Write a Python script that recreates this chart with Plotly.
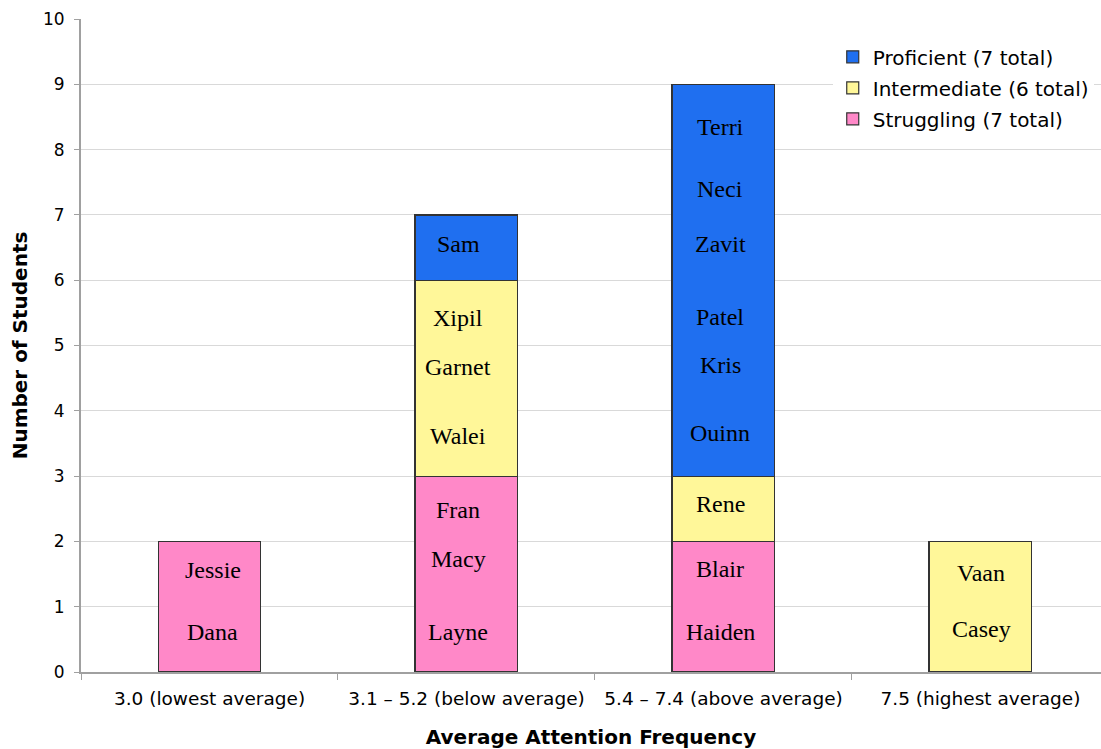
import plotly.graph_objects as go

# Attention-frequency bands on the x axis
categories = [
    "3.0 (lowest average)",
    "3.1 – 5.2 (below average)",
    "5.4 – 7.4 (above average)",
    "7.5 (highest average)",
]

# Number of students per band and proficiency level
struggling = [2, 3, 2, 0]
intermediate = [0, 3, 1, 2]
proficient = [0, 1, 6, 0]

# Student names written inside each stacked segment, bottom to top,
# with the height at which each name is written
struggling_names = [["Dana", "Jessie"], ["Layne", "Macy", "Fran"], ["Haiden", "Blair"], []]
struggling_name_y = [[0.61, 1.56], [0.61, 1.73, 2.48], [0.61, 1.58], []]
intermediate_names = [[], ["Walei", "Garnet", "Xipil"], ["Rene"], ["Casey", "Vaan"]]
intermediate_name_y = [[], [3.61, 4.67, 5.42], [2.57], [0.66, 1.52]]
proficient_names = [[], ["Sam"], ["Ouinn", "Kris", "Patel", "Zavit", "Neci", "Terri"], []]
proficient_name_y = [[], [6.55], [3.66, 4.70, 5.44, 6.55, 7.40, 8.35], []]

y_ticks = list(range(0, 11))

# (legend label, values, colour, legend rank)
series = [
    ("Struggling (7 total)", struggling, "#FF88C8", 3),
    ("Intermediate (6 total)", intermediate, "#FFF799", 2),
    ("Proficient (7 total)", proficient, "#1F6FF0", 1),
]

fig = go.Figure()
for name, values, color, rank in series:
    fig.add_trace(go.Bar(
        x=categories,
        y=values,
        name=name,
        legendgroup=name,
        legendrank=rank,
        width=0.4,
        marker=dict(color=color, line=dict(color="#333333", width=1.2)),
        hoverinfo="skip",
    ))

sans = "DejaVu Sans, Verdana, sans-serif"
serif = "Liberation Serif, Times New Roman, serif"

# names in the second band sit a little left of the bar centre
name_xshift = [3, -8, -3, 1]

for names_by_cat, ys_by_cat in [
    (struggling_names, struggling_name_y),
    (intermediate_names, intermediate_name_y),
    (proficient_names, proficient_name_y),
]:
    for cat, names, ys, dx in zip(categories, names_by_cat, ys_by_cat, name_xshift):
        for label, yv in zip(names, ys):
            fig.add_annotation(
                x=cat, y=yv, text=label, showarrow=False, xshift=dx,
                font=dict(family=serif, size=24, color="black"),
                xanchor="center", yanchor="middle",
            )

fig.update_layout(
    width=1101,
    height=749,
    barmode="stack",
    plot_bgcolor="white",
    paper_bgcolor="white",
    margin=dict(l=81, r=0, t=19, b=77),
    font=dict(family=sans, color="black"),
    legend=dict(
        x=0.737, y=0.972, xanchor="left", yanchor="top",
        traceorder="grouped",
        tracegroupgap=2,
        bgcolor="white",
        font=dict(family=sans, size=20, color="black"),
    ),
    xaxis=dict(
        type="category",
        categoryorder="array",
        categoryarray=categories,
        range=[-0.5, 3.469],
        showgrid=False,
        showline=True, linecolor="#A0A0A0", linewidth=2,
        ticks="outside", tickson="boundaries", ticklen=6, tickcolor="#A0A0A0",
        tickfont=dict(family=sans, size=18.5, color="black"),
        ticklabelstandoff=9,
        title=dict(text="<b>Average Attention Frequency</b>",
                   font=dict(family=sans, size=20, color="black"), standoff=22),
    ),
    yaxis=dict(
        range=[0, 10],
        tickvals=y_ticks,
        showgrid=True, gridcolor="#D9D9D9", gridwidth=1,
        showline=True, linecolor="#A0A0A0", linewidth=2,
        ticks="outside", ticklen=5, tickcolor="#A0A0A0",
        tickfont=dict(family=sans, size=17, color="black"),
        ticklabelstandoff=6,
        zeroline=False,
        title=dict(text="<b>Number of Students</b>",
                   font=dict(family=sans, size=20, color="black"), standoff=10),
    ),
)

fig.write_html("out.html")
